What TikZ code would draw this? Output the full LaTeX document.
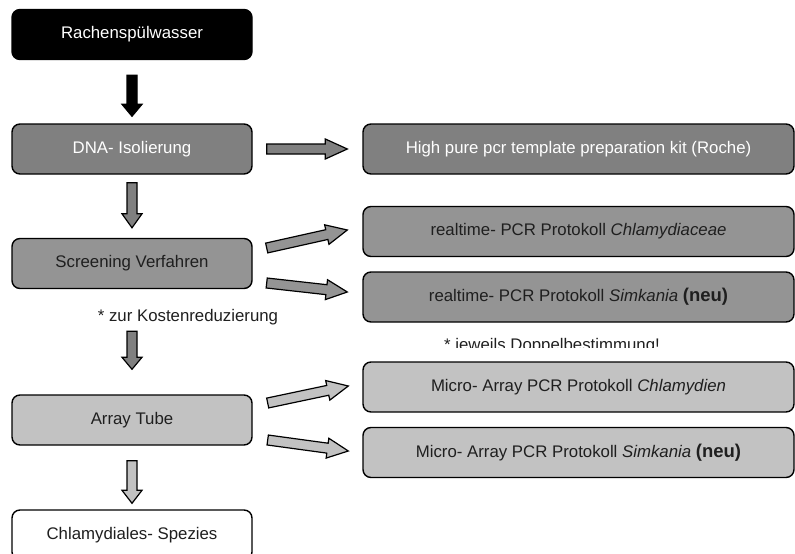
\documentclass[tikz,border=0pt]{standalone}
\usepackage{fontspec}
\setmainfont{Liberation Sans}
\usetikzlibrary{calc}

\definecolor{darkgrey}{gray}{0.50}
\definecolor{midgrey}{gray}{0.58}
\definecolor{lightgrey}{gray}{0.76}
\definecolor{textgrey}{gray}{0.12}

\tikzset{
    stepbox/.style={draw,line width=1.4pt,rounded corners=8pt,minimum width=240pt,
        minimum height=50pt,inner sep=0pt,font=\fontsize{16.8}{20}\selectfont},
    widebox/.style={stepbox,minimum width=431pt},
    fatarrow/.style={draw,line width=1.2pt,line join=miter},
    note/.style={font=\fontsize{16.8}{20}\selectfont,inner sep=0pt}
}

\newcommand{\neu}{{\bfseries\fontsize{18.5}{20}\selectfont (neu)}}

% block arrow: fill, tail, tip, head length
\newcommand{\fatarrow}[4]{%
    \coordinate (fa-h) at ($(#3)!#4!(#2)$);
    \path[fatarrow,fill=#1] ($(#2)!5pt!90:(#3)$) -- ($(fa-h)!5pt!-90:(#2)$)
        -- ($(fa-h)!10pt!-90:(#2)$) -- (#3) -- ($(fa-h)!10pt!90:(#2)$)
        -- ($(fa-h)!5pt!90:(#2)$) -- ($(#2)!5pt!-90:(#3)$) -- cycle;
}

\begin{document}
\begin{tikzpicture}[x=1pt,y=-1pt]
    \useasboundingbox (0,0) rectangle (795,554);
    \clip (0,0) rectangle (795,554);

    %%%%%%% Linke Spalte %%%%%%%
    \node[stepbox,fill=black,text=white] (rachen) at (132,34.5) {Rachensp\"ulwasser};
    \node[stepbox,fill=darkgrey,text=white] (dna) at (132,149) {DNA- Isolierung};
    \node[stepbox,fill=midgrey,text=textgrey] (screen) at (132,263.5) {Screening Verfahren};
    \node[stepbox,fill=lightgrey,text=textgrey] (array) at (132,420) {Array Tube};
    \node[stepbox,fill=white,text=textgrey] (chl) at (132,535) {Chlamydiales- Spezies};

    %%%%%%% Rechte Spalte %%%%%%%
    \node[widebox,fill=darkgrey,text=white] (roche) at (578.5,149)
        {High pure pcr template preparation kit (Roche)};
    \node[widebox,fill=midgrey,text=textgrey] (rtchl) at (578.5,231.5)
        {realtime- PCR Protokoll \textit{Chlamydiaceae}};
    \node[widebox,fill=midgrey,text=textgrey] (rtsim) at (578.5,297)
        {realtime- PCR Protokoll \textit{Simkania} \neu};
    \node[widebox,fill=lightgrey,text=textgrey] (machl) at (578.5,387)
        {Micro- Array PCR Protokoll \textit{Chlamydien}};
    \node[widebox,fill=lightgrey,text=textgrey] (masim) at (578.5,452.5)
        {Micro- Array PCR Protokoll \textit{Simkania} \neu};

    %%%%%%% Hinweise %%%%%%%
    \node[note,text=textgrey] (kosten) at (188,317) {* zur Kostenreduzierung};
    \begin{scope}
        \clip (400,325) rectangle (720,347.5);
        \node[note,anchor=base,text=textgrey] (doppel) at (552,350) {* jeweils Doppelbestimmung!};
    \end{scope}

    %%%%%%% Pfeile nach unten %%%%%%%
    \coordinate (p1a) at ($(rachen.south)+(0,15)$);
    \coordinate (p1b) at ($(dna.north)+(0,-7)$);
    \coordinate (p2a) at ($(dna.south)+(0,8)$);
    \coordinate (p2b) at ($(screen.north)+(0,-10)$);
    \coordinate (p3a) at ($(screen.south)+(0,42)$);
    \coordinate (p3b) at ($(array.north)+(0,-25)$);
    \coordinate (p4a) at ($(array.south)+(0,15)$);
    \coordinate (p4b) at ($(chl.north)+(0,-6)$);
    \fatarrow{black}{p1a}{p1b}{12pt}
    \fatarrow{darkgrey}{p2a}{p2b}{14pt}
    \fatarrow{darkgrey}{p3a}{p3b}{12pt}
    \fatarrow{lightgrey}{p4a}{p4b}{13pt}

    %%%%%%% Pfeile nach rechts %%%%%%%
    \coordinate (q1a) at ($(dna.east)+(14,0)$);
    \coordinate (q1b) at ($(roche.west)+(-15,0)$);
    \coordinate (q2a) at ($(screen.east)+(14,-15.5)$);
    \coordinate (q2b) at ($(rtchl.west)+(-15,-1.5)$);
    \coordinate (q3a) at ($(screen.east)+(14,19.5)$);
    \coordinate (q3b) at ($(rtsim.west)+(-15,-5)$);
    \coordinate (q4a) at ($(array.east)+(15,-17)$);
    \coordinate (q4b) at ($(machl.west)+(-14,-1)$);
    \coordinate (q5a) at ($(array.east)+(15,20)$);
    \coordinate (q5b) at ($(masim.west)+(-14,-1.5)$);
    \fatarrow{darkgrey}{q1a}{q1b}{22pt}
    \fatarrow{midgrey}{q2a}{q2b}{21pt}
    \fatarrow{midgrey}{q3a}{q3b}{21pt}
    \fatarrow{lightgrey}{q4a}{q4b}{21pt}
    \fatarrow{lightgrey}{q5a}{q5b}{21pt}
\end{tikzpicture}
\end{document}
